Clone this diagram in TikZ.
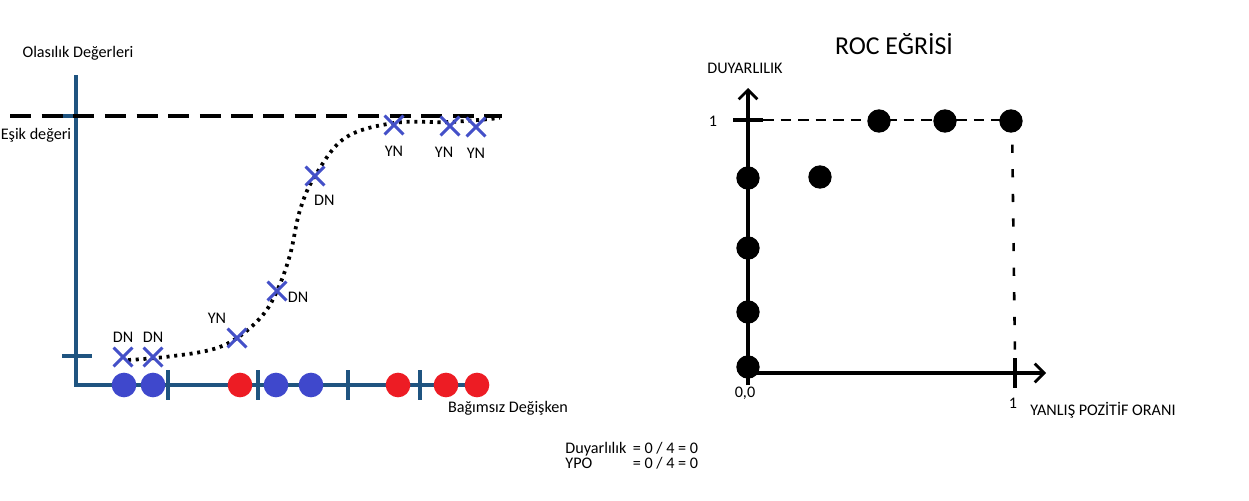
\documentclass[tikz,border=0pt]{standalone}
\usepackage{fontspec}
\setmainfont{Carlito}
\usepackage{tikz}
\usetikzlibrary{arrows.meta}
\usetikzlibrary{shapes.misc}
\usetikzlibrary{positioning}

\definecolor{axisblue}{RGB}{31,84,128}
\definecolor{crossblue}{RGB}{68,80,200}
\definecolor{dotblue}{RGB}{63,72,204}
\definecolor{dotred}{RGB}{237,28,36}

\tikzset{
 lbl/.style={inner sep=1pt,font=\fontsize{13.8}{16}\selectfont},
 xmark/.style={cross out,draw=crossblue,line width=2.5pt,minimum size=0.48cm,inner sep=0pt},
 bluedot/.style={circle,fill=dotblue,minimum size=0.74cm,inner sep=0pt},
 reddot/.style={circle,fill=dotred,minimum size=0.74cm,inner sep=0pt},
 rocdot/.style={circle,fill=black,minimum size=0.7cm,inner sep=0pt},
 baxis/.style={draw=axisblue,line width=3pt},
 raxis/.style={draw=black,line width=2.6pt,-{Straight Barb[length=8pt,width=16pt,line width=2.4pt]}},
}

\begin{document}
\begin{tikzpicture}[x=0.03cm,y=-0.03cm]
 \useasboundingbox (0,0) rectangle (1249,501);

 % left picture: probabilities
 \coordinate (ytop) at (76,75);
 \coordinate (orig) at (76,385);
 \coordinate (xend) at (480,385);
 \draw[baxis] (ytop) -- (orig) -- (xend);
 \draw[baxis] (62,356) -- (92,356);
 \draw[baxis] (62,116) -- (92,116);
 \foreach \t in {168,258,348,420}
  \draw[baxis] (\t,370) -- (\t,400);

 % threshold
 \coordinate (thl) at (10,116);
 \coordinate (thr) at (502,116);
 \draw[line width=3.6pt,dash pattern=on 18pt off 9pt] (thl) -- (thr);

 % curve
 \draw[line width=3.2pt,dash pattern=on 2.6pt off 4pt]
  plot[smooth,tension=0.6] coordinates {(128,360) (165,357) (210,350) (237,338) (262,316) (277,291) (290,255) (300,210) (315,176) (345,138) (394,123) (450,122) (500,118)};

 % points on the axis
 \node[bluedot] (b1) at (124,385) {};
 \node[bluedot] (b2) at (153,385) {};
 \node[reddot] (r1) at (240,385) {};
 \node[bluedot] (b3) at (276,385) {};
 \node[bluedot] (b4) at (311,385) {};
 \node[reddot] (r2) at (398,385) {};
 \node[reddot] (r3) at (446,385) {};
 \node[reddot] (r4) at (477,385) {};

 % crosses
 \node[xmark] (x1) at (123,357) {};
 \node[xmark] (x2) at (153,357) {};
 \node[xmark] (x3) at (237,338) {};
 \node[xmark] (x4) at (277,291) {};
 \node[xmark] (x5) at (315,176) {};
 \node[xmark] (x6) at (394,125) {};
 \node[xmark] (x7) at (450,126) {};
 \node[xmark] (x8) at (476,127) {};
 \node[lbl,above=3pt of x1] (l1) {DN};
 \node[lbl,above=3pt of x2] (l2) {DN};
 \node[lbl,above left=3pt and 0pt of x3] (l3) {YN};
 \node[lbl,right=0pt of x4,yshift=-5pt] (l4) {DN};
 \node[lbl,below right=7pt and -10pt of x5] (l5) {DN};
 \node[lbl,below=9pt of x6] (l6) {YN};
 \node[lbl,below=9pt of x7,xshift=-5pt] (l7) {YN};
 \node[lbl,below=9pt of x8] (l8) {YN};

 \node[lbl] (ytitle) at (78,53) {Olasılık Değerleri};
 \node[lbl] (thtitle) at (36,135) {Eşik değeri};
 \node[lbl] (xtitle) at (508,408) {Bağımsız Değişken};

 % formulas
 \node[lbl,anchor=west,align=left] (form) at (564,457)
  {\begin{tabular}{@{}l@{\ \,}l@{}}Duyarlılık&= 0 / 4 = 0\\[-3pt] YPO&= 0 / 4 = 0\end{tabular}};

 % right picture: ROC
 \node[font=\fontsize{22}{26}\selectfont] (roc) at (894,44) {ROC EĞRİSİ};
 \node[lbl] (sens) at (745,68) {DUYARLILIK};
 \coordinate (ro) at (748,373);
 \coordinate (rytop) at (748,88);
 \coordinate (rxend) at (1046,373);
 \draw[raxis] (748,385) -- (rytop);
 \draw[raxis] (ro) -- (rxend);
 \draw[line width=2.6pt] (733,120) -- (763,120);
 \draw[line width=2.6pt] (1015,358) -- (1015,388);
 \coordinate (c11) at (1012,120);
 \draw[line width=2.2pt,dash pattern=on 9pt off 6pt] (763,120) -- (c11);
 \draw[line width=2.2pt,dash pattern=on 7pt off 14pt] (c11) -- (1015,358);

 \node[rocdot] (p1) at (748,367) {};
 \node[rocdot] (p2) at (748,312) {};
 \node[rocdot] (p3) at (748,248) {};
 \node[rocdot] (p4) at (748,178) {};
 \node[rocdot] (p5) at (820,177) {};
 \node[rocdot] (p6) at (879,121) {};
 \node[rocdot] (p7) at (945,121) {};
 \node[rocdot] (p8) at (1011,121) {};

 \node[lbl] (one1) at (713,121) {1};
 \node[lbl] (one2) at (1013,403) {1};
 \node[lbl] (zero) at (745,393) {0,0};
 \node[lbl] (fpr) at (1103,410) {YANLIŞ POZİTİF ORANI};
\end{tikzpicture}
\end{document}
